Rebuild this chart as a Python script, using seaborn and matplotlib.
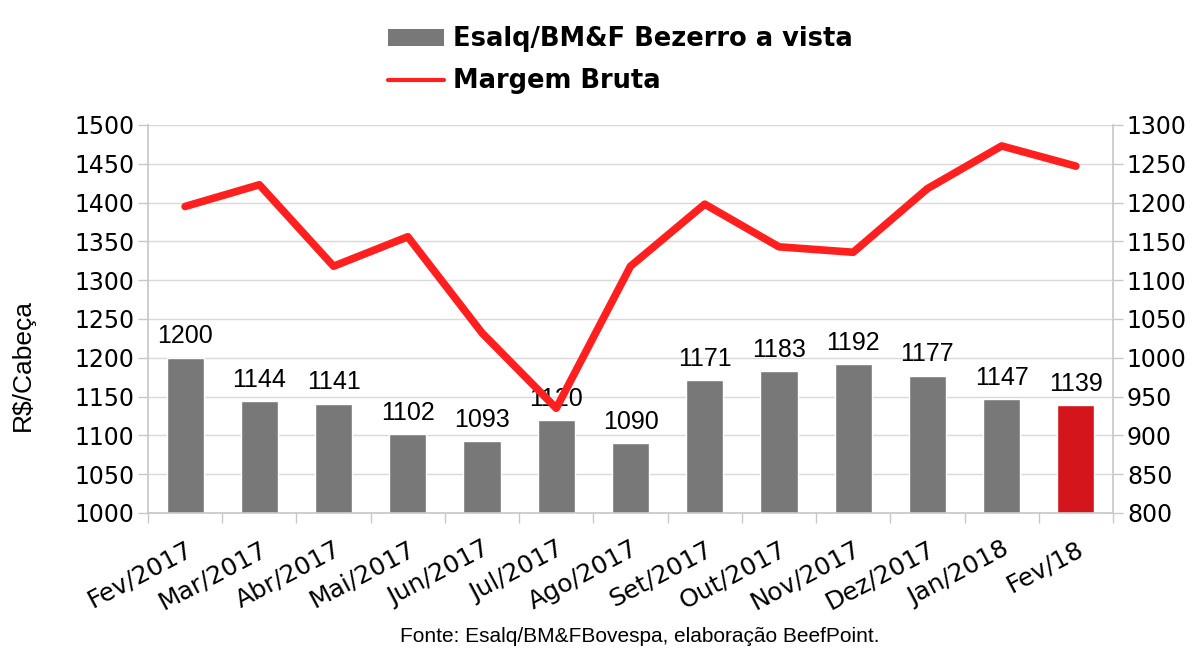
import matplotlib
matplotlib.use("Agg")
import matplotlib.pyplot as plt
import seaborn as sns
import pandas as pd
import numpy as np
from matplotlib.patches import Patch
from matplotlib.lines import Line2D
from matplotlib.ticker import FixedLocator

categories = ["Fev/2017", "Mar/2017", "Abr/2017", "Mai/2017", "Jun/2017", "Jul/2017",
              "Ago/2017", "Set/2017", "Out/2017", "Nov/2017", "Dez/2017", "Jan/2018", "Fev/18"]
bezerro = [1200, 1144, 1141, 1102, 1093, 1120, 1090, 1171, 1183, 1192, 1177, 1147, 1139]
margem = [1195, 1223, 1118, 1156, 1032, 935, 1118, 1198, 1143, 1136, 1218, 1273, 1247]
bar_colors = ["#787878"] * 12 + ["#d4161c"]

sns.set_theme(style="white")
plt.rcParams['font.family'] = ['DejaVu Sans']
plt.rcParams['text.color'] = 'black'
plt.rcParams['xtick.color'] = 'black'
plt.rcParams['ytick.color'] = 'black'
plt.rcParams['axes.labelcolor'] = 'black'

fig = plt.figure(figsize=(11.98, 6.66), dpi=100)
ax = fig.add_axes([148/1198, 1-513/666, (1113-148)/1198, (513-125)/666])

df = pd.DataFrame({"cat": categories, "val": bezerro})
sns.barplot(data=df, x="cat", y="val", hue="cat", palette=bar_colors, legend=False,
            width=0.5, ax=ax, saturation=1, zorder=2)
ax.set_ylim(1000, 1500)
ax.set_yticks(np.arange(1000, 1501, 50))
ax.yaxis.grid(True, color="#d9d9d9", linewidth=1)
ax.set_axisbelow(True)
ax.set_xlim(-0.5, len(categories) - 0.5)

for i, v in enumerate(bezerro):
    ax.text(i, v + 12, str(v), ha="center", va="bottom", fontsize=18,
            family="Liberation Sans", color="black", zorder=5)

ax.set_xlabel("")
ax.set_ylabel("R$/Cabeça", fontsize=19, family="Liberation Sans")
ax.yaxis.set_label_coords(-0.117, 0.381)
ax.tick_params(axis="y", labelsize=17, length=7, width=1, color="#c8c8c8", direction="out",
               left=True, pad=3, labelcolor="black")
ax.tick_params(axis="x", which="major", length=0, labelsize=18, pad=17, labelcolor="black")
ax.xaxis.set_minor_locator(FixedLocator(np.arange(-0.5, len(categories), 1)))
ax.tick_params(axis="x", which="minor", length=7, color="#c8c8c8", bottom=True)
plt.setp(ax.get_xticklabels(), rotation=28, ha="right", rotation_mode="anchor")

for side in ["left", "bottom", "top"]:
    ax.spines[side].set_color("#c8c8c8")
ax.spines["top"].set_visible(False)
ax.spines["right"].set_visible(False)

ax2 = ax.twinx()
sns.lineplot(x=list(range(len(categories))), y=margem, color="#ff1f1f", linewidth=5.5,
             ax=ax2, zorder=3)
ax2.set_ylim(800, 1300)
ax2.set_yticks(np.arange(800, 1301, 50))
ax2.tick_params(axis="y", labelsize=17, length=7, width=1, color="#c8c8c8", direction="out",
                right=True, pad=3, labelcolor="black")
for side in ["left", "bottom", "top"]:
    ax2.spines[side].set_visible(False)
ax2.spines["right"].set_color("#c8c8c8")
ax2.grid(False)
ax2.set_xlim(-0.5, len(categories) - 0.5)

handles = [Patch(facecolor="#787878", edgecolor="none"),
           Line2D([0], [0], color="#ff1f1f", linewidth=3)]
labels = ["Esalq/BM&F Bezerro a vista", "Margem Bruta"]
fig.legend(handles, labels, loc="upper center", bbox_to_anchor=(0.518, 0.995),
           frameon=False, prop={"weight": "bold", "size": 18.5}, handlelength=2.2,
           handleheight=0.6, labelspacing=0.62, handletextpad=0.35, labelcolor="black")

fig.text(0.534, 1-637/666, "Fonte: Esalq/BM&FBovespa, elaboração BeefPoint.",
         ha="center", va="center", fontsize=15, family="Liberation Sans", color="black")

fig.savefig("out.png", dpi=100, facecolor="white")
